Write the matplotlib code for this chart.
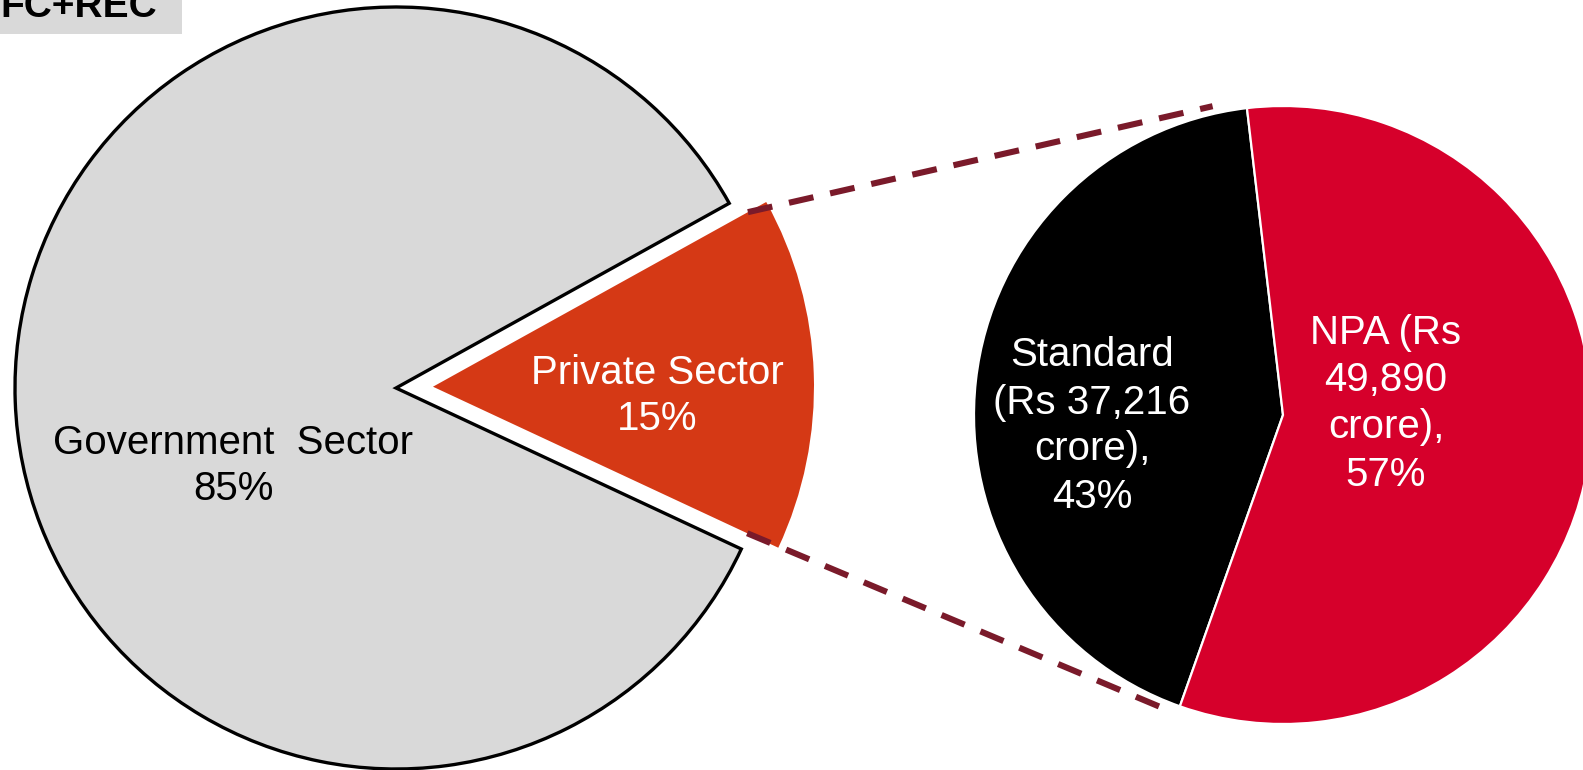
import numpy as np
import matplotlib.pyplot as plt
from matplotlib.patches import Rectangle

plt.rcParams['font.family'] = ['Liberation Sans', 'DejaVu Sans']

# sector split of total loans (outer pie)
sector_labels = ['Government  Sector', 'Private Sector']
sector_share = [85, 15]
sector_colors = ['#D9D9D9', '#D53915']

# private sector loans split (inner pie), Rs crore
quality_labels = ['Standard', 'NPA']
quality_crore = [37216, 49890]
quality_share = [43, 57]
quality_colors = ['#000000', '#D6002B']

W, H = 1583, 770
fig = plt.figure(figsize=(W / 100, H / 100), dpi=100)
ax = fig.add_axes([0, 0, 1, 1])

# pixel-like coordinates, y going up
c1 = (396, H - 388)
r1 = 381
c2 = (1283, H - 415)
r2 = 309

# explode is an absolute offset here (radius is not 1)
w1, _ = ax.pie(sector_share, center=c1, radius=r1, startangle=29,
               counterclock=True, colors=sector_colors,
               explode=[0, 37], wedgeprops=dict(linewidth=0))
w1[0].set_edgecolor('black')
w1[0].set_linewidth(2.4)
w1[0].set_joinstyle('miter')

w2, _ = ax.pie(quality_crore, center=c2, radius=r2, startangle=96.7,
               counterclock=True, colors=quality_colors,
               wedgeprops=dict(edgecolor='white', linewidth=1.6))

# connector lines: from the private wedge edges, tangent to the small pie
priv = w1[1]
pc = np.array(priv.center)
th1, th2 = np.deg2rad(priv.theta1), np.deg2rad(priv.theta2)
cc = np.array(c2)
R = r2 * 1.025


def tangent(p, side):
    v = p - cc
    d = np.hypot(*v)
    a = np.arctan2(v[1], v[0]) + side * np.arccos(R / d)
    return cc + R * np.array([np.cos(a), np.sin(a)])


p_top = pc + 0.945 * r1 * np.array([np.cos(th2), np.sin(th2)])
p_bot = pc + 0.91 * r1 * np.array([np.cos(th1), np.sin(th1)])
for p, s in [(p_top, -1), (p_bot, 1)]:
    t = tangent(p, s)
    ax.plot([p[0], t[0]], [p[1], t[1]], color='#7A1A2A', lw=4.4,
            dashes=(4.1, 2.8), solid_capstyle='butt', zorder=5)

fs = 29
ls = 1.3
ax.text(233, H - 466, f'{sector_labels[0]}\n{sector_share[0]}%', ha='center', va='center',
        fontsize=fs, color='black', linespacing=ls)
ax.text(657, H - 396, f'{sector_labels[1]}\n{sector_share[1]}%', ha='center', va='center',
        fontsize=fs, color='white', linespacing=ls)
ax.text(1092, H - 426, f'{quality_labels[0]}\n(Rs {quality_crore[0]:,}\ncrore),\n{quality_share[0]}%',
        ha='center', va='center', fontsize=fs, color='white', linespacing=ls)
ax.text(1386, H - 404, f'{quality_labels[1]} (Rs\n{quality_crore[1]:,}\ncrore),\n{quality_share[1]}%',
        ha='center', va='center', fontsize=fs, color='white', linespacing=ls)

# heading box in the corner
ax.add_patch(Rectangle((0, H - 34), 182, 34, facecolor='#D9D9D9', edgecolor='none', zorder=6))
ax.text(0, H - 17, 'FC+REC', ha='left', va='baseline', fontsize=28,
        fontweight='bold', color='black', zorder=7)

ax.set_xlim(0, W)
ax.set_ylim(0, H)
ax.set_aspect('equal')
ax.axis('off')
fig.savefig('out.png', dpi=100)
